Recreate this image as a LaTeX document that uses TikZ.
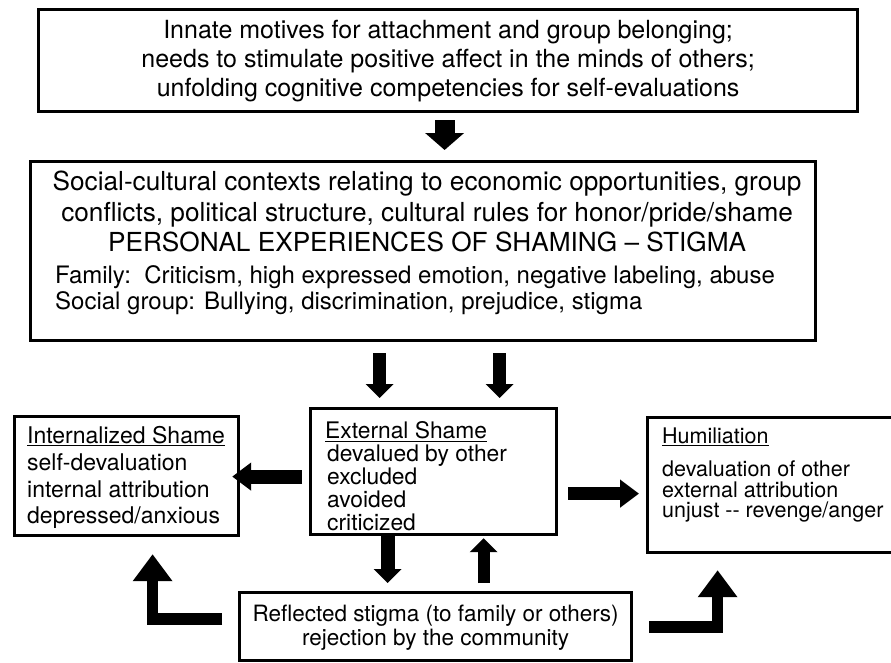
\documentclass[tikz,border=0pt]{standalone}
\usepackage{fontspec}
\setmainfont{TeX Gyre Heros}
\usetikzlibrary{arrows.meta,calc}
\begin{document}
\begin{tikzpicture}[x=1pt,y=-1pt,
  box/.style={draw=black, line width=3.2pt, inner sep=0pt, anchor=north west, fill=white},
  txt/.style={inner sep=0pt, text=black},
  fatarrow/.style={draw=black, line width=#1, line cap=butt, line join=miter},
  smallhead/.style={-{Triangle[width=27pt,length=14pt]}},
  sidehead/.style={-{Triangle[width=27pt,length=19pt]}},
  bighead/.style={-{Triangle[width=38pt,length=17pt]}},
  lhead/.style={-{Triangle[width=38pt,length=27pt]}}
]
\useasboundingbox (0,0) rectangle (891,662);
\clip (0,0) rectangle (891,662);
\fill[white] (0,0) rectangle (891,662);

% boxes
\node[box, minimum width=819pt, minimum height=102pt] (top) at (37,7.5) {};
\node[box, minimum width=785pt, minimum height=179pt] (ctx) at (29,160) {};
\node[box, minimum width=246pt, minimum height=126pt] (ext) at (309,407) {};
\node[box, minimum width=224pt, minimum height=119pt] (int) at (13,415) {};
\node[box, minimum width=259pt, minimum height=135pt] (hum) at (646,416) {};
\node[box, minimum width=392pt, minimum height=68pt] (refl) at (238,591) {};

% texts
\node[txt, align=center, font=\fontsize{25}{29}\selectfont] (toptext) at ([yshift=-0.5pt]top.center)
  {Innate motives for attachment and group belonging;\\
   needs to stimulate positive affect in the minds of others;\\
   unfolding cognitive competencies for self-evaluations};
\node[txt, align=center, font=\fontsize{26.2}{30.5}\selectfont] (ctxtext) at ([xshift=4pt,yshift=39.5pt]ctx.center)
  {Social-cultural contexts relating to economic opportunities, group\\
   conflicts, political structure, cultural rules for honor/pride/shame\\
   PERSONAL EXPERIENCES OF SHAMING -- STIGMA};
\node[txt, align=left, anchor=west, font=\fontsize{24}{26}\selectfont] (ctxlist) at ([xshift=26pt,yshift=-39pt]ctx.west)
  {Family:\ \ Criticism, high expressed emotion, negative labeling, abuse\\
   Social group: Bullying, discrimination, prejudice, stigma};
\node[txt, align=left, anchor=west, font=\fontsize{23}{26.5}\selectfont] (inttext) at ([xshift=14pt,yshift=-1.5pt]int.west)
  {\underline{Internalized Shame}\\[1pt]
   self-devaluation\\ internal attribution\\ depressed/anxious};
\node[txt, align=left, anchor=west, font=\fontsize{22.8}{23}\selectfont] (exttext) at ([xshift=16pt,yshift=-5pt]ext.west)
  {\underline{External Shame}\\
   \hspace{2pt}devalued by other\\ \hspace{2pt}excluded\\ \hspace{2pt}avoided\\ \hspace{2pt}criticized};
\node[txt, align=left, anchor=west, font=\fontsize{21.5}{20.5}\selectfont] (humtext) at ([xshift=16pt,yshift=10pt]hum.west)
  {\underline{Humiliation}\\[13pt]
   devaluation of other\\ external attribution\\ unjust -{}- revenge/anger};
\node[txt, align=center, font=\fontsize{22.5}{24}\selectfont] (refltext) at ([yshift=-1.5pt]refl.center)
  {Reflected stigma (to family or others)\\ rejection by the community};

% arrows
\draw[fatarrow=20pt, bighead] ([xshift=-3.5pt,yshift=-7.5pt]top.south) -- ([xshift=21.5pt,yshift=10pt]ctx.north);
\draw[fatarrow=13pt, smallhead] ([xshift=-43.5pt,yshift=-11pt]ctx.south) -- ([xshift=-54pt,yshift=9pt]ext.north);
\draw[fatarrow=13pt, smallhead] ([xshift=76.5pt,yshift=-11pt]ctx.south) -- ([xshift=66pt,yshift=9pt]ext.north);
\draw[fatarrow=14pt, sidehead] ([xshift=-7pt,yshift=-5pt]ext.west) -- ([xshift=-8pt,yshift=-0.5pt]int.east);
\draw[fatarrow=13pt, sidehead] ([xshift=10pt,yshift=-22pt]ext.east) -- ([xshift=-7pt,yshift=-8.5pt]hum.west);
\draw[fatarrow=14pt, smallhead] ([xshift=-46pt,yshift=1pt]ext.south) -- ([xshift=-48pt,yshift=8pt]refl.north);
\draw[fatarrow=12pt, smallhead] ([xshift=48pt,yshift=8pt]refl.north) -- ([xshift=50pt,yshift=-2pt]ext.south);
\draw[fatarrow=11.5pt, lhead] ([xshift=-16pt,yshift=7.5pt]refl.west) -| ([xshift=26pt,yshift=-17pt]int.south);
\draw[fatarrow=11.5pt, lhead] ([xshift=16pt,yshift=-0.5pt]refl.east) -| ([xshift=-59.5pt,yshift=-16pt]hum.south);
\end{tikzpicture}
\end{document}
